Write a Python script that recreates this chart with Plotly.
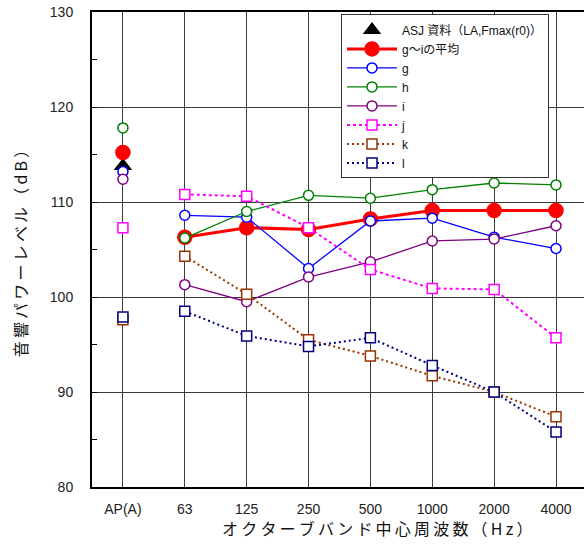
import plotly.graph_objects as go

# Octave-band categories (first column is the A-weighted overall level)
bands = ["AP(A)", "63", "125", "250", "500", "1000", "2000", "4000"]

# Sound power level [dB] per series, one value per band
asj_ref = [113.8]                                             # ASJ reference, overall only
avg_ghi = [115.2, 106.3, 107.3, 107.1, 108.2, 109.1, 109.1, 109.1]
g_vals = [113.2, 108.6, 108.4, 103.0, 108.0, 108.3, 106.3, 105.1]
h_vals = [117.8, 106.2, 109.0, 110.7, 110.4, 111.3, 112.0, 111.8]
i_vals = [112.4, 101.3, 99.5, 102.1, 103.7, 105.9, 106.1, 107.5]
j_vals = [107.3, 110.8, 110.6, 107.3, 102.9, 100.9, 100.8, 95.7]
k_vals = [97.6, 104.3, 100.3, 95.5, 93.8, 91.7, 90.0, 87.4]
l_vals = [97.9, 98.5, 95.9, 94.8, 95.7, 92.8, 90.0, 85.8]

y_ticks = [80, 90, 100, 110, 120, 130]

FONT = "Liberation Sans, Arial, Noto Sans CJK JP, sans-serif"
CJK_FONT = "Noto Sans CJK JP, Liberation Sans, sans-serif"


def spaced(text):
    # open up the CJK axis titles with thin spaces between glyphs
    return "\u2009".join(text)


series = [
    # name, values, colour, marker symbol, filled, marker size, line width, dash
    ("g～iの平均", avg_ghi, "#FF0000", "circle", True, 14, 3, "solid"),
    ("g", g_vals, "#0000FF", "circle", False, 10, 1.3, "solid"),
    ("h", h_vals, "#008000", "circle", False, 10, 1.3, "solid"),
    ("i", i_vals, "#800080", "circle", False, 10, 1.3, "solid"),
    ("j", j_vals, "#FF00FF", "square", False, 10, 2, "3px,3px"),
    ("k", k_vals, "#993300", "square", False, 10, 2, "2px,3px"),
    ("l", l_vals, "#000080", "square", False, 10, 2, "2px,3px"),
]

fig = go.Figure()

# ASJ overall level: a single black triangle
fig.add_trace(go.Scatter(
    x=bands[:len(asj_ref)], y=asj_ref, mode="markers",
    name="ASJ 資料（LA,Fmax(r0)）",
    marker=dict(symbol="triangle-up", size=16, color="black"),
))

for name, vals, color, symbol, filled, msize, lw, dash in series:
    marker = dict(
        symbol=symbol, size=msize,
        color=color if filled else "white",
        line=dict(color=color, width=1.5),
    )
    # overall level stands on its own, not joined to the octave bands
    fig.add_trace(go.Scatter(
        x=bands[:1], y=vals[:1], mode="markers", marker=marker,
        showlegend=False, legendgroup=name, name=name,
    ))
    fig.add_trace(go.Scatter(
        x=bands[1:], y=vals[1:], mode="lines+markers", marker=marker,
        line=dict(color=color, width=lw, dash=dash),
        legendgroup=name, name=name,
    ))

# x-axis title sits a little right of the plot centre
fig.add_annotation(
    text=spaced("オクターブバンド中心周波数（Hz）"),
    xref="paper", yref="paper", x=(377 - 92) / 492, y=-0.086,
    xanchor="center", yanchor="middle", showarrow=False,
    font=dict(family=CJK_FONT, size=16, color="#111111"),
)

fig.update_layout(
    width=584, height=548,
    margin=dict(l=92, r=0, t=12, b=61),
    paper_bgcolor="white", plot_bgcolor="white",
    font=dict(family=FONT, size=14, color="#222222"),
    legend=dict(
        x=(341 - 92) / 492, xanchor="left",
        y=0.995, yanchor="top",
        bgcolor="white", bordercolor="#333333", borderwidth=1,
        font=dict(family=FONT, size=12, color="#111111"),
        tracegroupgap=0, itemwidth=50,
    ),
    xaxis=dict(
        type="category", categoryorder="array", categoryarray=bands,
        range=[-0.5, 7.4525],
        showgrid=True, gridcolor="#3a3a3a", gridwidth=1,
        showline=True, linecolor="black", linewidth=2, mirror=True,
        ticks="", ticklabelstandoff=8,
        tickfont=dict(family=FONT, size=14, color="#222222"),
        zeroline=False,
    ),
    yaxis=dict(
        range=[80, 130], tickvals=y_ticks,
        showgrid=True, gridcolor="#3a3a3a", gridwidth=1,
        showline=True, linecolor="black", linewidth=2,
        ticks="inside", ticklen=5, tickcolor="black",
        minor=dict(dtick=5, ticks="inside", ticklen=5, tickcolor="black", showgrid=False),
        ticklabelstandoff=14,
        tickfont=dict(family=FONT, size=14, color="#222222"),
        title=dict(text=spaced("音響パワーレベル（dB）"),
                   font=dict(family=CJK_FONT, size=16, color="#111111"),
                   standoff=18),
        zeroline=False,
    ),
)

fig.write_html("out.html")
